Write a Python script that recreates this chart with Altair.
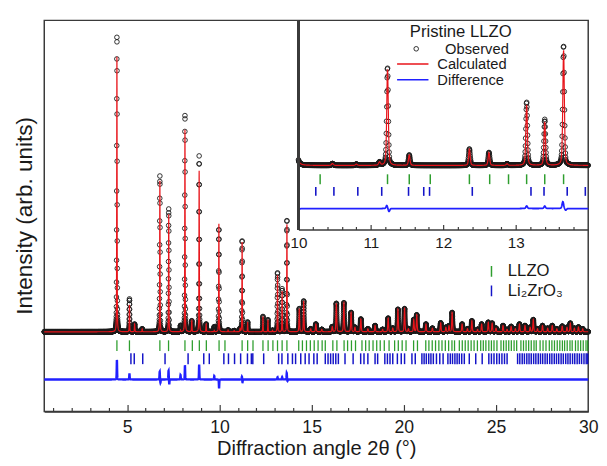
import numpy as np
import pandas as pd
import altair as alt

alt.data_transformers.disable_max_rows()

# ---------------- data ----------------
# calculated peaks: position (2theta, deg), intensity (arb.), FWHM (deg)
PEAK_POS = [4.44, 5.12, 5.40, 5.81, 6.77, 7.25, 7.89, 8.13, 8.50, 8.90, 9.28, 9.72, 9.97,
            10.47, 10.80, 11.12, 11.23, 11.53, 12.36, 12.63, 12.88, 13.15, 13.40, 13.66,
            14.33, 14.57, 14.95, 15.23, 15.55, 16.12, 16.34, 16.75, 17.14, 17.35, 17.67,
            18.05, 18.44, 18.85, 19.15, 19.40, 19.68, 20.04, 20.25, 20.54, 20.70, 21.20,
            21.55, 22.00, 22.28, 22.45, 22.62, 23.16, 23.45, 23.69, 24.00, 24.22, 24.58,
            24.79, 25.00, 25.38, 25.60, 25.82, 26.05, 26.27, 26.57, 26.85, 27.02, 27.25,
            27.52, 27.80, 28.05, 28.30, 28.59, 28.85, 29.03, 29.25, 29.47, 29.70]
PEAK_INT = [934, 91, 26, 10, 510, 397, 6, 686, 37, 544, 26, 5, 367,
            6, 4, 10, 305, 33, 52, 41, 5, 192, 137, 365,
            78, 104, 10, 26, 8, 17, 96, 98, 65, 15, 43,
            10, 21, 8, 46, 12, 76, 78, 10, 41, 57, 26,
            12, 30, 15, 20, 65, 26, 10, 37, 8, 26, 32,
            29, 12, 21, 8, 18, 10, 26, 21, 15, 41, 10,
            21, 12, 21, 10, 19, 15, 29, 12, 16, 10]
PEAK_FWHM = [0.025, 0.025, 0.03, 0.03, 0.025, 0.025, 0.03, 0.025, 0.03, 0.025, 0.03, 0.03, 0.025,
             0.03, 0.03, 0.03, 0.025, 0.025, 0.025, 0.025, 0.03, 0.025, 0.025, 0.025,
             0.04, 0.04, 0.05, 0.05, 0.05, 0.05, 0.05, 0.05, 0.05, 0.05, 0.05,
             0.05, 0.05, 0.05, 0.05, 0.05, 0.05, 0.05, 0.05, 0.05, 0.05, 0.05,
             0.05, 0.05, 0.05, 0.05, 0.05, 0.05, 0.05, 0.05, 0.05, 0.05, 0.05,
             0.05, 0.05, 0.05, 0.05, 0.05, 0.05, 0.05, 0.05, 0.05, 0.05, 0.05,
             0.05, 0.05, 0.05, 0.05, 0.05, 0.05, 0.05, 0.05, 0.05, 0.05]

# difference (observed - calculated) features
DIFF_POS = [4.44, 5.12, 6.76, 6.80, 7.24, 7.28, 7.89, 8.13, 8.90, 9.72, 9.98,
            11.22, 11.25, 13.15, 13.40, 13.65, 13.69]
DIFF_AMP = [66, 20, 27, -12, 30, -17, 15, 48, 50, 12, -30,
            10, -10, 8, 8, 22, -6]
DIFF_FWHM = 0.025

# Bragg reflection markers
LLZO_TICKS = [4.44, 5.12, 6.77, 7.24, 8.13, 8.53, 8.91, 9.29, 9.98, 10.30, 11.23, 11.53, 11.82,
              12.36, 12.64, 12.90, 13.15, 13.40, 13.66, 14.30, 14.50, 14.72, 14.93, 15.14,
              15.35, 15.57, 15.74, 16.15, 16.37, 16.76, 16.95, 17.16, 17.38, 17.73, 17.93,
              18.12, 18.33, 18.53, 18.72, 18.94, 19.20, 19.50, 19.70, 19.91, 20.12, 20.53,
              20.74, 21.19, 21.36, 21.54, 21.72, 21.90, 22.07, 22.25, 22.43, 22.61, 22.75,
              23.01, 23.17, 23.33, 23.49, 23.65, 23.81, 23.99, 24.17, 24.31, 24.45, 24.61,
              24.75, 24.89, 25.05, 25.27, 25.41, 25.55, 25.69, 25.83, 25.98, 26.12, 26.35,
              26.49, 26.63, 26.77, 26.91, 27.06, 27.18, 27.39, 27.55, 27.71, 27.89, 28.03,
              28.17, 28.32, 28.46, 28.60, 28.72, 28.86, 29.01, 29.13, 29.31, 29.45, 29.59,
              29.73, 29.88, 29.97]
LZO_TICKS = [5.20, 5.38, 5.84, 7.05, 8.30, 9.15, 9.45, 10.24, 10.49, 10.82, 11.15, 11.52,
             11.73, 11.81, 12.40, 13.21, 13.39, 13.71, 13.96, 14.13, 14.41, 14.65, 14.86,
             15.12, 15.30, 15.74, 15.89, 16.03, 16.17, 16.31, 16.45, 16.81, 17.25, 17.66,
             17.84, 18.05, 18.44, 18.58, 18.97, 19.11, 19.25, 19.40, 19.65, 19.86, 20.04,
             20.44, 20.62, 20.98, 21.10, 21.22, 21.35, 21.47, 21.60, 21.77, 21.95, 22.13,
             22.39, 22.52, 22.64, 22.77, 22.89, 23.01, 23.14, 23.28, 23.55, 23.90, 24.25,
             24.61, 24.75, 24.89, 25.04, 25.18, 25.32, 25.46, 25.60, 26.17, 26.29, 26.42,
             26.54, 26.67, 26.79, 26.91, 27.04, 27.16, 27.29, 27.41, 27.53, 27.66, 27.78,
             27.91, 28.03, 28.16, 28.28, 28.40, 28.53, 28.65, 28.78, 28.90, 29.02, 29.15,
             29.27, 29.40, 29.52, 29.64, 29.77, 29.89, 29.97]

PHASES = ["LLZO", "Li\u2082ZrO\u2083"]
SERIES = ["Observed", "Calculated", "Difference"]

MAIN_LABELS = [5, 10, 15, 20, 25, 30]
MAIN_MAJOR = [5, 10, 15, 20, 25]
MAIN_MINOR = [1, 2, 3, 4, 6, 7, 8, 9, 11, 12, 13, 14, 16, 17, 18, 19, 21, 22, 23, 24,
              26, 27, 28, 29]
INSET_LABELS = [10, 11, 12, 13]
INSET_MAJOR = [11, 12, 13]
INSET_MINOR = [10.2, 10.4, 10.6, 10.8, 11.2, 11.4, 11.6, 11.8, 12.2, 12.4, 12.6, 12.8,
               13.2, 13.4, 13.6, 13.8]
INSET_X = [10, 14]
INSET_Y = [-202, 458]

STEP = 0.003  # instrument step

# ---------------- build the profile table ----------------
tt = np.round(np.arange(0.5, 30.0 + 1e-9, STEP), 4)


def pvoigt(x, x0, w, eta=0.4):
    d = ((x - x0) / w) ** 2
    return eta / (1.0 + 4.0 * d) + (1.0 - eta) * np.exp(-4.0 * np.log(2.0) * d)


calc = np.zeros_like(tt)
for p, h, w in zip(PEAK_POS, PEAK_INT, PEAK_FWHM):
    calc += h * pvoigt(tt, p, w)
diff = np.zeros_like(tt)
for p, a in zip(DIFF_POS, DIFF_AMP):
    diff += a * pvoigt(tt, p, DIFF_FWHM)
obs = calc + diff

DIFF_OFFSET_MAIN = -161
DIFF_OFFSET_INSET = -136

df_main = pd.DataFrame({"tt": tt, "obs": np.round(obs, 2), "calc": np.round(calc, 2),
                        "diff": np.round(diff + DIFF_OFFSET_MAIN, 2)})
mask = (tt >= INSET_X[0]) & (tt <= INSET_X[1])
df_in = pd.DataFrame({"tt": tt[mask], "obs": np.round(obs[mask], 2),
                      "calc": np.round(calc[mask], 2),
                      "diff": np.round(diff[mask] + DIFF_OFFSET_INSET, 2)})

df_llzo = pd.DataFrame({"pos": LLZO_TICKS, "phase": PHASES[0]})
df_lzo = pd.DataFrame({"pos": LZO_TICKS, "phase": PHASES[1]})
df_llzo_in = df_llzo[(df_llzo.pos > INSET_X[0]) & (df_llzo.pos < INSET_X[1])]
df_lzo_in = df_lzo[(df_lzo.pos > INSET_X[0]) & (df_lzo.pos < INSET_X[1])]

# ---------------- styling ----------------
FONT = "Liberation Sans"
INK = "#1a1a1a"
FRAME = "#3a3a3a"
GREEN = "#2e9e2e"
BLUE_TICK = "#1414c8"
BLUE_DIFF = "#2020ff"
RED = "#e8141a"

W, H = 555, 399
INSET_LEFT = 259.3
INSET_BOTTOM = 213.3

xs_main = alt.Scale(domain=[0.5, 30], nice=False, zero=False)
ys_main = alt.Scale(domain=[-269, 1052], nice=False, zero=False)
xs_in = alt.Scale(domain=INSET_X, range=[INSET_LEFT, W], nice=False, zero=False)
ys_in = alt.Scale(domain=INSET_Y, range=[INSET_BOTTOM, 0], nice=False, zero=False)

# ---------------- main panel ----------------
mb = alt.Chart(df_main)

obs_main = mb.mark_point(shape="circle", filled=False, size=22, strokeWidth=0.9,
                         color=INK, opacity=1).encode(
    x=alt.X("tt:Q", scale=xs_main,
            axis=alt.Axis(orient="bottom", values=MAIN_LABELS, ticks=False, tickSize=0,
                          labelPadding=8, labelFontSize=18, labelFlush=False, grid=False,
                          domain=True, title="Diffraction angle 2\u03b8 (\u00b0)",
                          titleFontSize=20.5, titlePadding=2)),
    y=alt.Y("obs:Q", scale=ys_main, axis=None),
)

calc_main = mb.mark_line(color=RED, strokeWidth=1.2).encode(
    x=alt.X("tt:Q", scale=xs_main,
            axis=alt.Axis(orient="top", offset=-H, values=MAIN_MAJOR, labels=False,
                          domain=False, tickSize=7, grid=False, title=None)),
    y=alt.Y("calc:Q", scale=ys_main, axis=None),
)

diff_main = mb.mark_line(color=BLUE_DIFF, strokeWidth=2.4).encode(
    x=alt.X("tt:Q", scale=xs_main,
            axis=alt.Axis(orient="top", offset=-H, values=MAIN_MINOR, labels=False,
                          domain=False, tickSize=4, grid=False, title=None)),
    y=alt.Y("diff:Q", scale=ys_main, axis=None),
)

phase_scale = alt.Scale(domain=PHASES, range=[GREEN, BLUE_TICK])
phase_legend = alt.Legend(orient="none", legendX=447.8, legendY=246, title=None,
                          symbolType="M0,-1L0,1", symbolSize=121, symbolStrokeWidth=1.5,
                          labelFontSize=17, labelOffset=8.2, clipHeight=20, rowPadding=0,
                          padding=0, labelColor=INK, labelFont=FONT)

tick_g = alt.Chart(df_llzo).mark_rule(strokeWidth=1.3).encode(
    x=alt.X("pos:Q", scale=xs_main, axis=None),
    y=alt.YDatum(-28.8, axis=None), y2=alt.Y2Datum(-65.2),
    color=alt.Color("phase:N", scale=phase_scale, legend=phase_legend),
)
tick_b = alt.Chart(df_lzo).mark_rule(strokeWidth=1.5).encode(
    x=alt.X("pos:Q", scale=xs_main, axis=None),
    y=alt.YDatum(-72.8, axis=None), y2=alt.Y2Datum(-109.2),
    color=alt.Color("phase:N", scale=phase_scale, legend=phase_legend),
)

main_group = alt.layer(obs_main, calc_main, diff_main, tick_g, tick_b).resolve_axis(x="independent")

# ---------------- inset ----------------
ib = alt.Chart(df_in)

obs_legend = alt.Legend(orient="none", legendX=373, legendY=4, title="Pristine LLZO",
                        titleFontSize=17, titleFontWeight="normal", titleColor=INK,
                        titleFont=FONT, titlePadding=0, symbolType="circle", symbolSize=22,
                        symbolStrokeWidth=0.9, symbolOffset=-1, labelFontSize=15, labelOffset=22,
                        clipHeight=16, rowPadding=0, padding=0, labelColor=INK, labelFont=FONT)
line_legend = alt.Legend(orient="none", legendX=359, legendY=36.5, title=None,
                         symbolType="stroke", symbolSize=1024, symbolStrokeWidth=1.5,
                         labelFontSize=15, labelOffset=8, clipHeight=16, rowPadding=0,
                         padding=0, labelColor=INK, labelFont=FONT)

obs_in = ib.mark_point(shape="circle", filled=False, size=22, strokeWidth=0.9,
                       opacity=1).transform_calculate(label="'Observed'").encode(
    x=alt.X("tt:Q", scale=xs_in,
            axis=alt.Axis(orient="bottom", offset=-(H - INSET_BOTTOM), values=INSET_LABELS,
                          ticks=False, tickSize=0, labelPadding=6, labelFontSize=15.5,
                          labelFlush=False, grid=False, domain=True, title=None)),
    y=alt.Y("obs:Q", scale=ys_in, axis=None),
    stroke=alt.Stroke("label:N", scale=alt.Scale(domain=SERIES[:1], range=[INK]),
                      legend=obs_legend),
)

line_scale = alt.Scale(domain=SERIES[1:], range=[RED, BLUE_DIFF])

calc_in = ib.mark_line(strokeWidth=1.2).transform_calculate(label="'Calculated'").encode(
    x=alt.X("tt:Q", scale=xs_in,
            axis=alt.Axis(orient="top", offset=-INSET_BOTTOM, values=INSET_MAJOR,
                          labels=False, domain=False, tickSize=5, grid=False, title=None)),
    y=alt.Y("calc:Q", scale=ys_in, axis=None),
    color=alt.Color("label:N", scale=line_scale, legend=line_legend),
)
diff_in = ib.mark_line(strokeWidth=1.8).transform_calculate(label="'Difference'").encode(
    x=alt.X("tt:Q", scale=xs_in,
            axis=alt.Axis(orient="top", offset=-INSET_BOTTOM, values=INSET_MINOR,
                          labels=False, domain=False, tickSize=3, grid=False, title=None)),
    y=alt.Y("diff:Q", scale=ys_in, axis=None),
    color=alt.Color("label:N", scale=line_scale, legend=line_legend),
)

tick_g_in = alt.Chart(df_llzo_in).mark_rule(strokeWidth=1.5, color=GREEN).encode(
    x=alt.X("pos:Q", scale=xs_in, axis=None),
    y=alt.YDatum(-28, axis=None), y2=alt.Y2Datum(-59),
)
tick_b_in = alt.Chart(df_lzo_in).mark_rule(strokeWidth=1.6, color=BLUE_TICK).encode(
    x=alt.X("pos:Q", scale=xs_in, axis=None),
    y=alt.YDatum(-68, axis=None), y2=alt.Y2Datum(-96),
)
# left edge of the inset frame
inset_edge = alt.Chart(df_in).mark_rule(strokeWidth=1.5, color=FRAME).encode(
    x=alt.XDatum(INSET_X[0], axis=None),
    y=alt.YDatum(INSET_Y[0], axis=None), y2=alt.Y2Datum(INSET_Y[1]),
)

inset_group = alt.layer(obs_in, calc_in, diff_in, tick_g_in, tick_b_in,
                        inset_edge).resolve_axis(x="independent")

chart = alt.layer(main_group, inset_group).resolve_scale(
    x="independent", y="independent", color="independent", stroke="independent"
).properties(
    width=W, height=H, padding={"left": 6, "top": 7, "right": 0, "bottom": 0},
    title=alt.TitleParams(text="Intensity (arb. units)", orient="left", anchor="middle",
                          frame="group", fontSize=23, font=FONT, fontWeight="normal",
                          color=INK, offset=3),
).configure_view(
    stroke=FRAME, strokeWidth=1.5
).configure_axis(
    domainColor=FRAME, domainWidth=1.5, tickColor=FRAME, tickWidth=1.2,
    labelFont=FONT, titleFont=FONT, labelColor=INK, titleColor=INK,
    titleFontWeight="normal"
).configure_legend(
    labelFont=FONT, titleFont=FONT
)

chart.save("out.html", embed_options={"renderer": "svg", "actions": False})
